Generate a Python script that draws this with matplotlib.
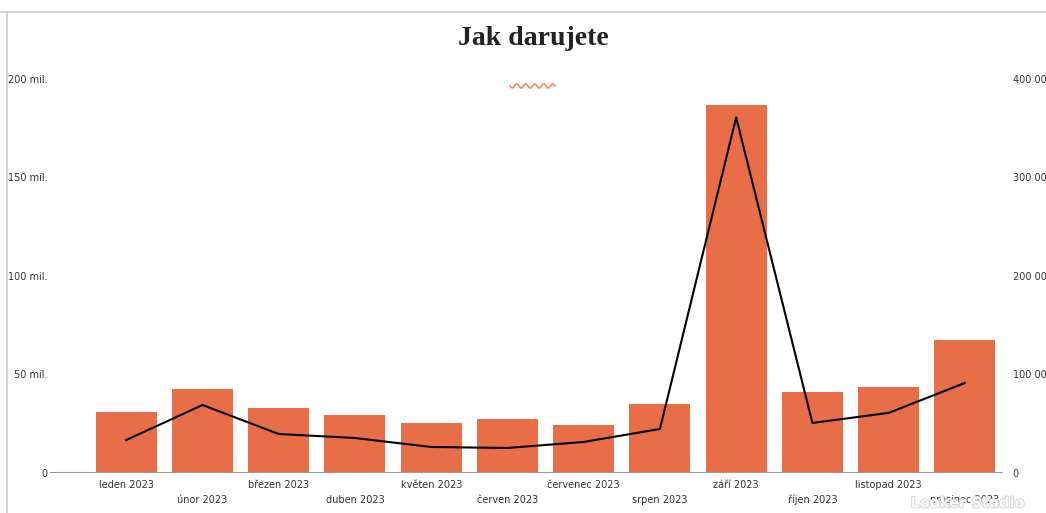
import numpy as np
import matplotlib
matplotlib.use("Agg")
import matplotlib.pyplot as plt
from matplotlib.lines import Line2D
import matplotlib.patheffects as pe

# -----------------------------
# Data
# -----------------------------
months = ["leden 2023", "únor 2023", "březen 2023", "duben 2023", "květen 2023",
          "červen 2023", "červenec 2023", "srpen 2023", "září 2023", "říjen 2023",
          "listopad 2023", "prosinec 2023"]
amount_mil = [31, 42.6, 33, 29.4, 25.4, 27.4, 24.4, 35, 186.8, 41.1, 43.7, 67.5]
count_k = [33.5, 69, 39.6, 35.5, 26.4, 25.4, 31.5, 44.7, 361, 50.8, 61, 91.4]

left_ticks = [0, 50, 100, 150, 200]
left_labels = ["0", "50 mil.", "100 mil.", "150 mil.", "200 mil."]
right_ticks = [0, 100, 200, 300, 400]
right_labels = ["0", "100 000", "200 000", "300 000", "400 000"]

bar_color = "#E76E47"
text_color = "#333333"

# -----------------------------
# Figure
# -----------------------------
fig = plt.figure(figsize=(10.46, 5.13), dpi=100)
ax = fig.add_axes([0.0478, 0.078, 0.9111, 0.768])

x = np.arange(len(months))
ax.bar(x, amount_mil, width=0.8, color=bar_color, zorder=2)
ax.set_xlim(-1.0, 11.5)
ax.set_ylim(0, 200)
ax.set_yticks(left_ticks)
ax.set_yticklabels(left_labels)
ax.tick_params(axis="y", length=0, pad=2, labelsize=7, labelcolor=text_color)
ax.set_xticks([])
for s in ax.spines.values():
    s.set_visible(False)
ax.axhline(0, color="#999999", lw=1.5, zorder=3)

# alternating month labels
for i, m in enumerate(months):
    off = -0.03 if i % 2 == 0 else -0.068
    ax.text(i, off, m, transform=ax.get_xaxis_transform(), ha="center",
            va="center", fontsize=7, color=text_color)

ax2 = ax.twinx()
ax2.plot(x, count_k, color="black", lw=1.5, zorder=4)
ax2.set_ylim(0, 400)
ax2.set_yticks(right_ticks)
ax2.set_yticklabels(right_labels)
ax2.tick_params(axis="y", length=0, pad=7, labelsize=7, labelcolor=text_color)
for s in ax2.spines.values():
    s.set_visible(False)

# title
fig.text(0.51, 0.925, "Jak darujete", ha="center", va="center",
         fontsize=20, fontweight="bold", family="Liberation Serif", color="#222222")

# decorative squiggle under the title
t = np.linspace(0, 1, 200)
sx = (510 + 45 * t) / 1046
sy = 1 - (86 + 2 * np.sin(t * 2 * np.pi * 5)) / 513
fig.add_artist(Line2D(sx, sy, color="#F08A65", lw=1.2, transform=fig.transFigure))

# frame border lines
fig.add_artist(Line2D([0, 1], [1 - 12 / 513] * 2, color="#CCCCCC", lw=1.2,
                      transform=fig.transFigure))
fig.add_artist(Line2D([7 / 1046] * 2, [0, 1 - 12 / 513], color="#CCCCCC", lw=1.2,
                      transform=fig.transFigure))

# watermark
fig.text(0.98, 0.005, "Looker Studio", ha="right", va="bottom", fontsize=10.5,
         fontweight="bold", color="white", alpha=0.85,
         path_effects=[pe.withStroke(linewidth=1.2, foreground="#CCCCCC")])

fig.savefig("out.png", dpi=100)
